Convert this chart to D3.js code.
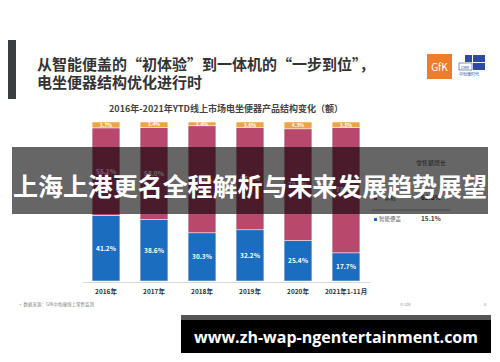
<!DOCTYPE html>
<html>
<head>
<meta charset="utf-8">
<script src="https://cdn.jsdelivr.net/npm/d3@7"></script>
<style>
  body { margin: 0; background: #fff; }
  svg { display: block; font-family: "Noto Sans CJK SC", "Noto Sans", sans-serif; }
</style>
</head>
<body>
<svg id="chart" width="500" height="362"></svg>
<script>
// data
const years = ["2016年", "2017年", "2018年", "2019年", "2020年", "2021年1-11月"];
const smartLid = [41.2, 38.6, 30.3, 32.2, 25.4, 17.7];   // 智能便盖
const allInOne = [55.1, 58.0, 67.3, 64.2, 70.3, 78.8];   // 一体机
const other = [3.7, 3.4, 2.4, 3.6, 4.3, 3.5];
const legendNames = ["一体机", "智能便盖"];
const legendGrowth = ["62.8%", "15.1%"];

const colors = { smartLid: "#1a6dbf", allInOne: "#b9486d", other: "#efa443" };

const rows = years.map((y, i) => ({ year: y, smartLid: smartLid[i], allInOne: allInOne[i], other: other[i] }));

const svg = d3.select("#chart");

// slide header
svg.append("rect").attr("x", 8).attr("y", 40).attr("width", 8).attr("height", 59).attr("fill", "#3a3d42");
svg.append("text").attr("x", 37).attr("y", 70).attr("font-size", 15).attr("font-weight", 700).attr("fill", "#333")
    .text("从智能便盖的“初体验”到一体机的“一步到位”，");
svg.append("text").attr("x", 37).attr("y", 88).attr("font-size", 15).attr("font-weight", 700).attr("fill", "#333")
    .text("电坐便器结构优化进行时");

// logos
svg.append("rect").attr("x", 427).attr("y", 54).attr("width", 25).attr("height", 25).attr("fill", "#ee7d2b");
svg.append("text").attr("x", 439.5).attr("y", 71).attr("text-anchor", "middle").attr("font-size", 10)
    .attr("fill", "#fff").text("GfK");
const logo2 = svg.append("g").attr("transform", "translate(459,55)");
logo2.append("rect").attr("x", 6).attr("y", 0).attr("width", 7).attr("height", 7).attr("fill", "#2e4a9a");
logo2.append("rect").attr("x", 14).attr("y", 0).attr("width", 12).attr("height", 7).attr("fill", "#2e4a9a");
logo2.append("rect").attr("x", 14).attr("y", 8).attr("width", 12).attr("height", 7).attr("fill", "#2e4a9a");
logo2.append("rect").attr("x", 0).attr("y", 8).attr("width", 13).attr("height", 7).attr("fill", "none").attr("stroke", "#2e4a9a").attr("stroke-width", 0.6);
logo2.append("text").attr("x", 2).attr("y", 14).attr("font-size", 3.5).attr("fill", "#2e4a9a").text("CMM");
logo2.append("text").attr("x", 0).attr("y", 21).attr("font-size", 4).attr("fill", "#2e4a9a").text("中怡康时代");

// chart title
svg.append("text").attr("x", 226).attr("y", 112).attr("text-anchor", "middle").attr("font-size", 9)
    .attr("font-weight", 700).attr("fill", "#444").text("2016年-2021年YTD线上市场电坐便器产品结构变化（额）");

const x = d3.scaleBand().domain(years).range([82, 370]).paddingInner(0.42).paddingOuter(0.21);
const y = d3.scaleLinear().domain([0, 100]).range([281, 122]);

const stack = d3.stack().keys(["smartLid", "allInOne", "other"]);
const series = stack(rows);

const layers = svg.append("g").selectAll("g").data(series).join("g")
    .attr("fill", d => colors[d.key]);

layers.selectAll("rect").data(d => d).join("rect")
    .attr("x", d => x(d.data.year))
    .attr("y", d => y(d[1]))
    .attr("width", x.bandwidth())
    .attr("height", d => y(d[0]) - y(d[1]))
    .attr("stroke", "#fff").attr("stroke-width", 0.5);

layers.selectAll("text").data(d => d.map(v => Object.assign(v, { key: d.key }))).join("text")
    .attr("x", d => x(d.data.year) + x.bandwidth() / 2)
    .attr("y", d => (y(d[0]) + y(d[1])) / 2)
    .attr("dy", "0.35em")
    .attr("text-anchor", "middle")
    .attr("fill", "#fff")
    .attr("font-size", d => d.key === "other" ? 5 : 6.5)
    .attr("font-weight", 700)
    .text(d => d.data[d.key].toFixed(1) + "%");

// x axis
const axis = svg.append("g").attr("transform", "translate(0,282)")
    .call(d3.axisBottom(x).tickSize(0).tickPadding(7));
axis.select(".domain").attr("stroke", "#d0d0d0").attr("stroke-width", 0.8);
axis.selectAll("text").attr("font-size", 6.5).attr("font-weight", 700).attr("fill", "#333")
    .style("font-family", "'Noto Sans CJK SC', sans-serif");

// legend with growth
const lg = svg.append("g");
lg.append("text").attr("x", 431).attr("y", 165).attr("text-anchor", "middle").attr("font-size", 6)
    .attr("fill", "#555").text("零售额增长");
legendNames.forEach((name, i) => {
    const ly = 200 + i * 21;
    lg.append("rect").attr("x", 374).attr("y", ly - 3).attr("width", 3).attr("height", 3)
        .attr("fill", i === 0 ? colors.allInOne : colors.smartLid);
    lg.append("text").attr("x", 379).attr("y", ly).attr("font-size", 5.5).attr("fill", "#555").text(name);
    lg.append("text").attr("x", 421).attr("y", ly).attr("font-size", 6.5).attr("font-weight", 700)
        .attr("fill", "#444").text(legendGrowth[i]);
});
lg.append("line").attr("x1", 372).attr("x2", 450).attr("y1", 210).attr("y2", 210)
    .attr("stroke", "#777").attr("stroke-width", 0.6);

// footer
svg.append("text").attr("x", 18).attr("y", 306).attr("font-size", 4.5).attr("fill", "#888")
    .text("• 数据来源：GfK中怡康线上零售监测");
svg.append("text").attr("x", 400).attr("y", 306).attr("font-size", 4).attr("fill", "#999").text("© GfK");
svg.append("text").attr("x", 484).attr("y", 306).attr("font-size", 4).attr("fill", "#999").text("8");

// overlay band with headline
svg.append("rect").attr("x", 12).attr("y", 147).attr("width", 476).attr("height", 67)
    .attr("fill", "#000").attr("fill-opacity", 0.6);
svg.append("text").attr("x", 250).attr("y", 196).attr("text-anchor", "middle").attr("font-size", 25)
    .attr("font-weight", 700).attr("fill", "#fff").attr("textLength", 474)
    .text("上海上港更名全程解析与未来发展趋势展望");

// bottom url box
svg.append("rect").attr("x", 181).attr("y", 315).attr("width", 310).attr("height", 38).attr("fill", "#000");
svg.append("rect").attr("x", 181).attr("y", 315).attr("width", 310).attr("height", 5).attr("fill", "#555");
svg.append("text").attr("x", 336).attr("y", 343).attr("text-anchor", "middle").attr("font-size", 16)
    .attr("font-weight", 700).attr("fill", "#fff").style("font-family", "'Open Sans', 'DejaVu Sans', sans-serif")
    .text("www.zh-wap-ngentertainment.com");
</script>
</body>
</html>
